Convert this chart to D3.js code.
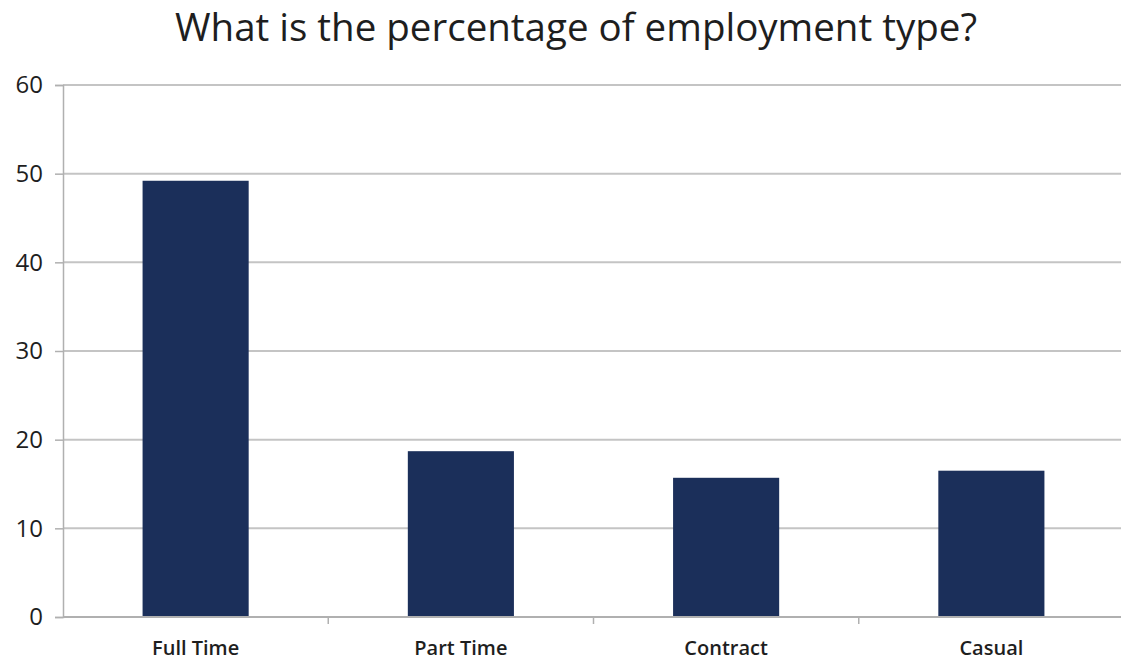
<!DOCTYPE html>
<html>
<head>
<meta charset="utf-8">
<script src="https://cdn.jsdelivr.net/npm/d3@7/dist/d3.min.js"></script>
<style>
  html, body { margin: 0; padding: 0; background: #fff; }
  svg { display: block; }
  text { font-family: "Open Sans", "Lato", sans-serif; fill: #1e1e1e; }
</style>
</head>
<body>
<svg id="chart" width="1121" height="662"></svg>
<script>
// Employment type shares (percent)
const categories = ["Full Time", "Part Time", "Contract", "Casual"];
const values = [49.2, 18.7, 15.7, 16.5];
const yTicks = [0, 10, 20, 30, 40, 50, 60];
const title = "What is the percentage of employment type?";

const svg = d3.select("#chart");
const width = 1121, height = 662;
const plot = { left: 63, right: 1124, top: 85, bottom: 617 };

const x = d3.scaleBand()
  .domain(categories)
  .range([plot.left, plot.right])
  .paddingInner(0.6)
  .paddingOuter(0.3);

const y = d3.scaleLinear()
  .domain([0, 60])
  .range([plot.bottom, plot.top]);

// Horizontal gridlines
svg.append("g")
  .selectAll("line")
  .data(yTicks.filter(d => d > 0))
  .join("line")
  .attr("x1", plot.left)
  .attr("x2", width)
  .attr("y1", d => y(d))
  .attr("y2", d => y(d))
  .attr("stroke", "#c4c4c4")
  .attr("stroke-width", 2);

// Bars
svg.append("g")
  .selectAll("rect")
  .data(categories)
  .join("rect")
  .attr("x", d => x(d))
  .attr("width", x.bandwidth())
  .attr("y", (d, i) => y(values[i]))
  .attr("height", (d, i) => y(0) - y(values[i]))
  .attr("fill", "#1b2f5a");

// Y axis
const yAxis = svg.append("g")
  .attr("transform", `translate(${plot.left},0)`)
  .call(d3.axisLeft(y).tickValues(yTicks).tickSize(8).tickPadding(12).tickFormat(d3.format("d")));
yAxis.select(".domain").attr("stroke", "#b0b0b0").attr("stroke-width", 1.5);
yAxis.selectAll(".tick line").attr("stroke", "#b0b0b0").attr("stroke-width", 1.5);
yAxis.selectAll(".tick text")
  .attr("font-size", 24)
  .attr("font-weight", 500)
  .attr("font-family", "'Open Sans', sans-serif")
  .attr("fill", "#1e1e1e");

// X axis baseline with category boundary ticks
svg.append("line")
  .attr("x1", plot.left).attr("x2", width)
  .attr("y1", y(0)).attr("y2", y(0))
  .attr("stroke", "#b0b0b0").attr("stroke-width", 2);

const step = x.step();
const boundaries = d3.range(1, categories.length).map(i => x(categories[i]) - step * x.paddingInner() / 2);
svg.append("g")
  .selectAll("line")
  .data(boundaries)
  .join("line")
  .attr("x1", d => d).attr("x2", d => d)
  .attr("y1", y(0)).attr("y2", y(0) + 7)
  .attr("stroke", "#b0b0b0").attr("stroke-width", 1.5);

// Category labels
svg.append("g")
  .selectAll("text")
  .data(categories)
  .join("text")
  .attr("x", d => x(d) + x.bandwidth() / 2)
  .attr("y", 655)
  .attr("text-anchor", "middle")
  .attr("font-size", 20)
  .attr("font-weight", 600)
  .text(d => d);

// Title
svg.append("text")
  .attr("x", 576)
  .attr("y", 41)
  .attr("text-anchor", "middle")
  .attr("font-size", 38.5)
  .text(title);
</script>
</body>
</html>
